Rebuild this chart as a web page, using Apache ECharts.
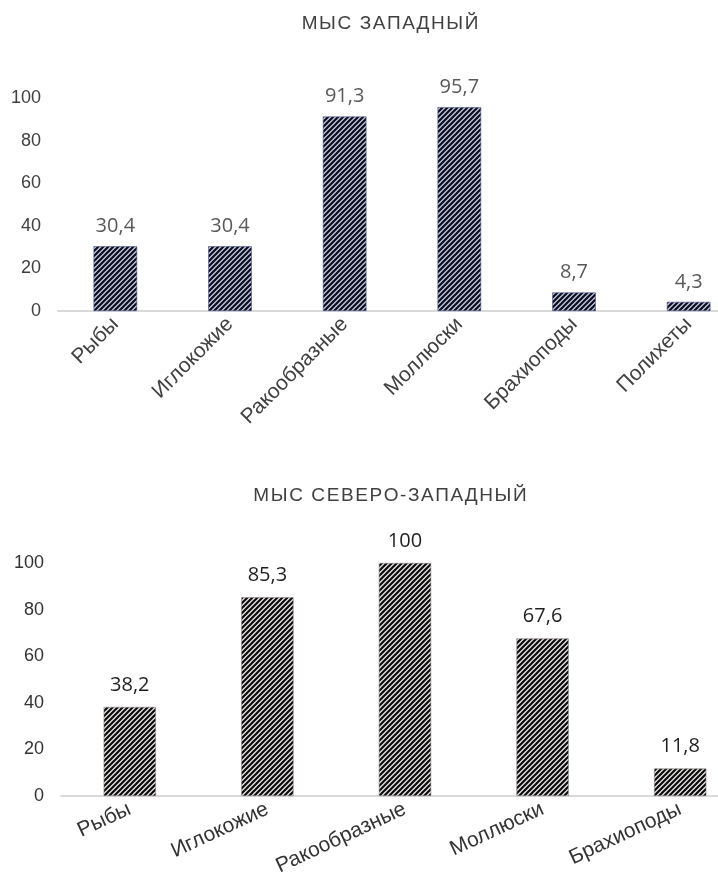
<!DOCTYPE html>
<html>
<head>
<meta charset="utf-8">
<script src="https://cdn.jsdelivr.net/npm/echarts@6/dist/echarts.min.js"></script>
<style>
  html, body { margin: 0; padding: 0; background: #fff; }
  #chart { width: 718px; height: 896px; }
</style>
</head>
<body>
<div id="chart"></div>
<script>
// Occurrence (%) of prey groups, two capes
const titleWest = 'МЫС ЗАПАДНЫЙ';
const titleNorthWest = 'МЫС СЕВЕРО-ЗАПАДНЫЙ';
const categoriesWest = ['Рыбы', 'Иглокожие', 'Ракообразные', 'Моллюски', 'Брахиоподы', 'Полихеты'];
const valuesWest = [30.4, 30.4, 91.3, 95.7, 8.7, 4.3];
const categoriesNorthWest = ['Рыбы', 'Иглокожие', 'Ракообразные', 'Моллюски', 'Брахиоподы'];
const valuesNorthWest = [38.2, 85.3, 100, 67.6, 11.8];
const yTicks = [0, 20, 40, 60, 80, 100];

// Diagonal hatch tile used as bar fill
function hatch(bg, fg, p, lw) {
  const c = document.createElement('canvas');
  c.width = p; c.height = p;
  const ctx = c.getContext('2d');
  ctx.fillStyle = bg;
  ctx.fillRect(0, 0, p, p);
  ctx.strokeStyle = fg;
  ctx.lineWidth = lw;
  ctx.beginPath();
  ctx.moveTo(-1, p + 1); ctx.lineTo(p + 1, -1);
  ctx.moveTo(-1, 1); ctx.lineTo(1, -1);
  ctx.moveTo(p - 1, p + 1); ctx.lineTo(p + 1, p - 1);
  ctx.stroke();
  return { image: c, repeat: 'repeat' };
}

// Letter-spaced heading text
const spaced = s => s.split('').join('\u200A');
const comma = p => String(p.value).replace('.', ',');

const chart = echarts.init(document.getElementById('chart'), null, { renderer: 'canvas' });

const yAxisCommon = {
  type: 'value', min: yTicks[0], max: yTicks[yTicks.length - 1], interval: 20,
  splitLine: { show: false }, axisLine: { show: false }, axisTick: { show: false },
  axisLabel: { color: '#404040', fontSize: 18, fontFamily: 'Liberation Sans', margin: 17 }
};
const xAxisCommon = {
  type: 'category',
  axisTick: { show: false },
  axisLine: { lineStyle: { color: '#d9d9d9', width: 2 } },
  axisLabel: { color: '#404040', fontSize: 21, fontFamily: 'Liberation Sans', interval: 0 }
};
const titleStyle = { fontFamily: 'Liberation Sans', fontSize: 19, fontWeight: 'normal', color: '#404040' };

chart.setOption({
  animation: false,
  backgroundColor: '#ffffff',
  title: [
    { text: spaced(titleWest), left: 385, top: 9, textAlign: 'center', textStyle: titleStyle },
    { text: spaced(titleNorthWest), left: 385, top: 481, textAlign: 'center', textStyle: titleStyle }
  ],
  grid: [
    { left: 58, width: 688, top: 98, height: 213, containLabel: false, outerBoundsMode: 'none' },
    { left: 61, width: 688, top: 563, height: 233, containLabel: false, outerBoundsMode: 'none' }
  ],
  xAxis: [
    Object.assign({}, xAxisCommon, { gridIndex: 0, data: categoriesWest,
      axisLabel: Object.assign({}, xAxisCommon.axisLabel, { rotate: 45, margin: 10 }) }),
    Object.assign({}, xAxisCommon, { gridIndex: 1, data: categoriesNorthWest,
      axisLabel: Object.assign({}, xAxisCommon.axisLabel, { rotate: 25, margin: 12, color: '#333333' }) })
  ],
  yAxis: [
    Object.assign({}, yAxisCommon, { gridIndex: 0 }),
    Object.assign({}, yAxisCommon, { gridIndex: 1,
      axisLabel: Object.assign({}, yAxisCommon.axisLabel, { color: '#333333' }) })
  ],
  series: [
    {
      type: 'bar', xAxisIndex: 0, yAxisIndex: 0, data: valuesWest,
      barWidth: '38%',
      itemStyle: { color: hatch('#c3c9e4', '#0d0d1a', 5, 2.2), borderColor: '#4a5890', borderWidth: 0.6 },
      label: { show: true, position: 'top', distance: 10, formatter: comma,
        color: '#595959', fontSize: 20, fontFamily: 'Open Sans' }
    },
    {
      type: 'bar', xAxisIndex: 1, yAxisIndex: 1, data: valuesNorthWest,
      barWidth: '38%',
      itemStyle: { color: hatch('#ece6e6', '#0d0d0d', 5, 2.2), borderColor: '#8a8080', borderWidth: 0.6 },
      label: { show: true, position: 'top', distance: 12, formatter: comma,
        color: '#1f1f1f', fontSize: 20, fontFamily: 'Open Sans' }
    }
  ]
});
</script>
</body>
</html>
